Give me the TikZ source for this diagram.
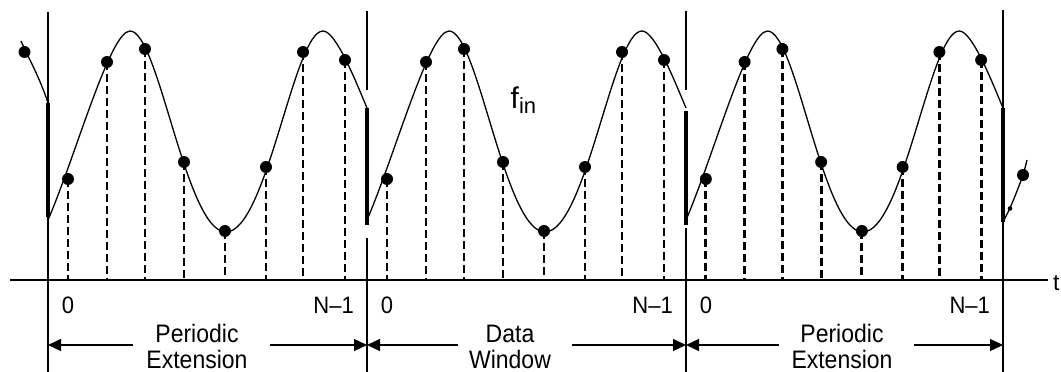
\documentclass[tikz,border=0pt]{standalone}
\usepackage{fontspec}
\setmainfont{Liberation Sans}
\usetikzlibrary{arrows.meta}
\begin{document}
\begin{tikzpicture}[x=1pt,y=1pt,
  thinline/.style={line width=1.3pt, line cap=butt},
  thickline/.style={line width=3.3pt, line cap=butt},
  curve/.style={line width=1.3pt},
  sampleline/.style={line width=2.9pt, dash pattern=on 8pt off 4pt},
  dot/.style={fill=black},
  arr/.style={line width=1.3pt, -{Triangle[length=13pt,width=12pt]}},
  numlabel/.style={font=\fontsize{22}{22}\selectfont, inner sep=0pt},
  winlabel/.style={font=\fontsize{23}{25}\selectfont, inner sep=0pt, anchor=base}]
\useasboundingbox (0,0) rectangle (1061,-372);
\fill[white] (0,0) rectangle (1061,-372);

% time axis
\coordinate (axL) at (10,-280);
\coordinate (axR) at (1048,-280);
\draw[thinline] (axL) -- (axR);
\node[font=\fontsize{23}{23}\selectfont, anchor=base west, inner sep=0pt] (tlabel) at (1053,-290) {t};

% window boundaries
\coordinate (b0top) at (48,-12);   \coordinate (b0bot) at (48,-372);
\coordinate (b0t1) at (48,-103);   \coordinate (b0t2) at (48,-217);
\draw[thinline] (b0top) -- (b0bot);
\draw[thickline] (b0t1) -- (b0t2);

\coordinate (b1a) at (367,-11);  \coordinate (b1b) at (367,-90);
\coordinate (b1t1) at (367,-108); \coordinate (b1t2) at (367,-225);
\coordinate (b1c) at (367,-238); \coordinate (b1d) at (367,-372);
\draw[thinline] (b1a) -- (b1b);
\draw[thickline] (b1t1) -- (b1t2);
\draw[thinline] (b1c) -- (b1d);

\coordinate (b2a) at (686,-11);  \coordinate (b2b) at (686,-90);
\coordinate (b2t1) at (686,-111); \coordinate (b2t2) at (686,-225);
\coordinate (b2c) at (686,-228); \coordinate (b2d) at (686,-372);
\draw[thinline] (b2a) -- (b2b);
\draw[thickline] (b2t1) -- (b2t2);
\draw[thinline] (b2c) -- (b2d);

\coordinate (b3top) at (1003,-10);  \coordinate (b3bot) at (1003,-372);
\coordinate (b3t1) at (1003,-108);  \coordinate (b3t2) at (1003,-222);
\draw[thinline] (b3top) -- (b3bot);
\draw[thickline] (b3t1) -- (b3t2);

% three windows of the sampled sine
\foreach \xo/\sc/\k in {48/1/1, 367/1/2, 686/0.9937/3} {
  \begin{scope}[shift={(\xo,0)}, xscale=\sc]
    \foreach \u/\y in {20/179, 59/62, 97/49, 136/162, 177/231, 218/167, 255/52, 297/60} {
      \draw[sampleline] (\u,-\y) -- (\u,-280);
    }
    \draw[curve] (0,-220) .. controls (28,-155) and (62,-31) .. (82,-31)
                 .. controls (111,-31) and (137.7,-232) .. (178,-232)
                 .. controls (218.7,-232) and (245.9,-31) .. (275,-31)
                 .. controls (288,-31) and (308,-82) .. (319,-108);
    \foreach \u/\y in {20/179, 59/62, 97/49, 136/162, 177/231, 218/167, 255/52, 297/60} {
      \fill[dot] (\u,-\y) circle[radius=6];
    }
    \node[numlabel] (zero\k) at (20,-305.5) {\scalebox{1}[1.08]{0}};
    \node[numlabel, anchor=east] (last\k) at (306,-305.5) {\scalebox{1}[1.08]{N–1}};
  \end{scope}
}

% partial periods outside the windows
\draw[curve] (21,-41) .. controls (28,-57) and (40,-78) .. (48,-103);
\fill[dot] (24.5,-52) circle[radius=6];
\draw[curve] plot[smooth, tension=0.55] coordinates {(1003,-222) (1010,-208) (1017,-191) (1023,-175) (1027,-160)};
\fill[dot] (1023,-175) circle[radius=6];
\fill[dot] (1010,-208.5) circle[radius=2.3];

% f_in label
\node[anchor=base west, inner sep=0pt] (fin) at (510.5,-108.3)
  {{\fontsize{30}{30}\selectfont f}{\fontsize{22}{22}\selectfont\raisebox{-5pt}{in}}};

% span arrows
\coordinate (b0m) at (48,-345);
\coordinate (b1m) at (367,-345);
\coordinate (b2m) at (686,-345);
\coordinate (b3m) at (1003,-345);
\coordinate (w1l) at (133,-345); \coordinate (w1r) at (270,-345);
\coordinate (w2l) at (458,-345); \coordinate (w2r) at (572,-345);
\coordinate (w3l) at (779,-345); \coordinate (w3r) at (914,-345);
\draw[arr] (w1l) -- (b0m);
\draw[arr] (w1r) -- (b1m);
\draw[arr] (w2l) -- (b1m);
\draw[arr] (w2r) -- (b2m);
\draw[arr] (w3l) -- (b2m);
\draw[arr] (w3r) -- (b3m);

\node[winlabel] (p1a) at (197,-342.5) {\scalebox{1}[1.1]{Periodic}};
\node[winlabel] (p1b) at (197,-368) {\scalebox{1}[1.1]{Extension}};
\node[winlabel] (d2a) at (510,-342.5) {\scalebox{1}[1.1]{Data}};
\node[winlabel] (d2b) at (510,-368) {\scalebox{1}[1.1]{Window}};
\node[winlabel] (p3a) at (842,-342.5) {\scalebox{1}[1.1]{Periodic}};
\node[winlabel] (p3b) at (842,-368) {\scalebox{1}[1.1]{Extension}};
\end{tikzpicture}
\end{document}
